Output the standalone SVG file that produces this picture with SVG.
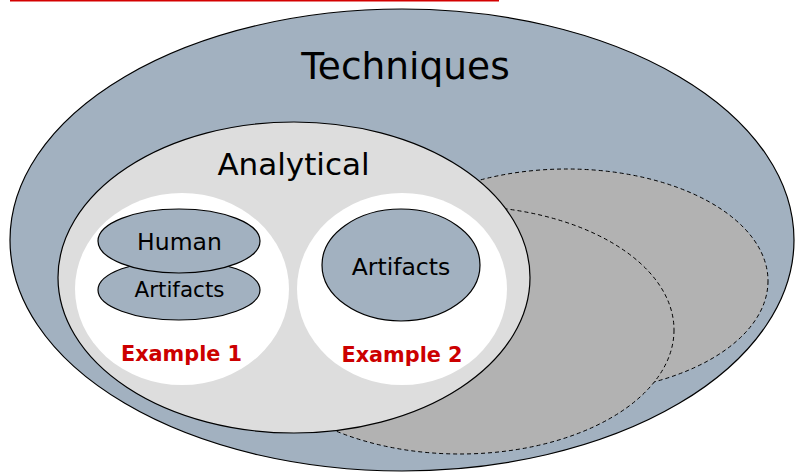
<svg xmlns="http://www.w3.org/2000/svg" width="795" height="472" viewBox="0 0 795 472">
<style>
.blue{fill:#a2b1c0;stroke:#000;stroke-width:1.2}
.dash{fill:#b2b2b2;stroke:#000;stroke-width:1;stroke-dasharray:4 3}
.ana{fill:#dddddd;stroke:#000;stroke-width:1.2}
.white{fill:#fff;stroke:none}
.t{font-family:"DejaVu Sans","Verdana",sans-serif;fill:#000;text-anchor:middle}
.ex{font-family:"DejaVu Sans","Verdana",sans-serif;font-weight:bold;fill:#cc0000;text-anchor:middle;font-size:20.8px}
</style>
<rect width="795" height="472" fill="#fff"/>
<line x1="10" y1="0.5" x2="499" y2="0.5" stroke="#d40000" stroke-width="2"/>
<g id="techniques">
<ellipse class="blue" cx="402" cy="240" rx="392" ry="231"/>
<text class="t" x="405.5" y="79" font-size="37.5">Techniques</text>
</g>
<g id="other1">
<ellipse class="dash" cx="567" cy="281" rx="201" ry="112"/>
</g>
<g id="other2">
<ellipse class="dash" cx="460" cy="330" rx="214" ry="124"/>
</g>
<g id="analytical">
<ellipse class="ana" cx="294" cy="277.5" rx="236" ry="155.5"/>
<text class="t" x="293.5" y="175" font-size="31">Analytical</text>
</g>
<g id="example1">
<ellipse class="white" cx="182" cy="289" rx="107" ry="96"/>
<ellipse class="blue" cx="179" cy="290" rx="81" ry="30"/>
<ellipse class="blue" cx="179" cy="241" rx="81" ry="32"/>
<text class="t" x="179.5" y="250" font-size="23.5">Human</text>
<text class="t" x="179.5" y="297" font-size="21.5">Artifacts</text>
<text class="ex" x="181.5" y="361">Example 1</text>
</g>
<g id="example2">
<ellipse class="white" cx="402" cy="289" rx="105" ry="96"/>
<ellipse class="blue" cx="401" cy="265" rx="79" ry="56"/>
<text class="t" x="401" y="275" font-size="23.5">Artifacts</text>
<text class="ex" x="402" y="362">Example 2</text>
</g>
<g id="connectors"></g>
</svg>
